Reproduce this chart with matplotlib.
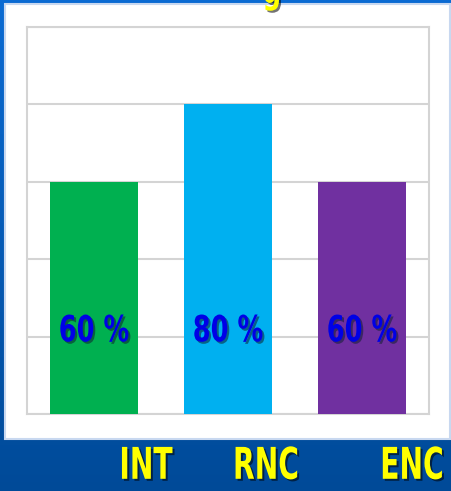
import numpy as np
import matplotlib
matplotlib.use("Agg")
import matplotlib.pyplot as plt
import matplotlib.patheffects as pe
from matplotlib.patches import Rectangle
from matplotlib.transforms import Affine2D

# chart data
categories = ['INT', 'RNC', 'ENC']
values = [60, 80, 60]
bar_labels = ['60 %', '80 %', '60 %']
bar_colors = ['#00B050', '#00B0F0', '#7030A0']

narrow = ['DejaVu Sans']


# stretch text around its centre (tall narrow look) and add a drop shadow
class NarrowShadow(pe.AbstractPathEffect):
    def __init__(self, sx, sy=1.0, offset=(2, -2), shadow='#000000', alpha=0.55):
        super().__init__()
        self.sx, self.sy = sx, sy
        self.off = offset
        self.shadow = shadow
        self.alpha = alpha

    def draw_path(self, renderer, gc, tpath, affine, rgbFace=None):
        ext = tpath.get_extents()
        cx, cy = ext.x0 + ext.width / 2, ext.y0 + ext.height / 2
        st = Affine2D().translate(-cx, -cy).scale(self.sx, self.sy).translate(cx, cy) + affine
        gc0 = renderer.new_gc()
        gc0.copy_properties(gc)
        gc0.set_alpha(self.alpha)
        gc0.set_linewidth(0)
        renderer.draw_path(gc0, tpath, st + Affine2D().translate(*self.off),
                           matplotlib.colors.to_rgb(self.shadow))
        gc0.restore()
        renderer.draw_path(gc, tpath, st, rgbFace)


W, H = 452, 491
fig = plt.figure(figsize=(W / 100, H / 100), dpi=100)

# blue gradient background
bg = fig.add_axes([0, 0, 1, 1], zorder=-10)
grad = np.linspace(0, 1, 256).reshape(-1, 1)
cmap = matplotlib.colors.LinearSegmentedColormap.from_list('bg', ['#0b6bd3', '#004a98'])
bg.imshow(grad, aspect='auto', cmap=cmap, extent=[0, 1, 0, 1], origin='upper')
bg.set_axis_off()

# white panel
fig.patches.append(Rectangle((5 / W, 1 - 439 / H), 445 / W, 435 / H,
                             transform=fig.transFigure, facecolor='white',
                             edgecolor='#c8d8f0', linewidth=1.5, zorder=-5))

# cut-off title descender
fig.text(272 / W, 1 - 3 / H, 'g', color='#FFFF00', fontsize=26, fontweight='bold',
         ha='center', va='baseline', family=narrow, fontstretch='condensed',
         path_effects=[NarrowShadow(0.8)])

ax = fig.add_axes([27 / W, 1 - 414 / H, 402 / W, 387 / H])
x = np.arange(len(categories))
ax.bar(x, values, width=0.66, color=bar_colors, zorder=3)
ax.set_xlim(-0.5, 2.5)
ax.set_ylim(0, 100)
ax.set_yticks(np.arange(0, 101, 20))
ax.yaxis.grid(True, color='#d4d4d4', linewidth=1.5, zorder=0)
ax.tick_params(left=False, bottom=False, labelleft=False, labelbottom=False)
for s in ax.spines.values():
    s.set_color('#d4d4d4')
    s.set_linewidth(1.5)
ax.set_facecolor('none')

# value labels inside bars
for xi, lab in zip(x, bar_labels):
    ax.text(xi, 21.5, lab, color='#0000E6', fontsize=21, fontweight='bold',
            ha='center', va='center', family=narrow, fontstretch='condensed', zorder=5,
            path_effects=[NarrowShadow(0.98, 1.24, shadow='#102030')])

# category labels on the blue strip
for cx, cat in zip([146, 266, 412], categories):
    fig.text(cx / W, 1 - 466 / H, cat, color='#FFFF00', fontsize=23, fontweight='bold',
             ha='center', va='center', family=narrow, fontstretch='condensed',
             path_effects=[NarrowShadow(0.98, 1.37)])

fig.savefig('out.png', dpi=100)
